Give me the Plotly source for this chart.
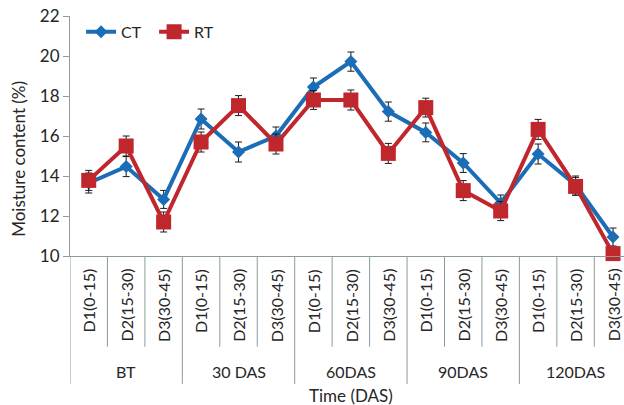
import plotly.graph_objects as go

# Sampling depths within each time step, and the time steps
depths = ["D1(0-15)", "D2(15-30)", "D3(30-45)"]
times = ["BT", "30 DAS", "60DAS", "90DAS", "120DAS"]

# Soil moisture content (%) with standard errors
ct_values = [13.65, 14.47, 12.83, 16.85, 15.2, 16.0, 18.45, 19.72, 17.22, 16.18,
             14.65, 12.65, 15.1, 13.55, 10.95]
ct_errors = [0.5, 0.5, 0.45, 0.5, 0.5, 0.45, 0.45, 0.48, 0.48, 0.47,
             0.47, 0.4, 0.5, 0.45, 0.45]
rt_values = [13.78, 15.5, 11.7, 15.7, 17.52, 15.6, 17.8, 17.8, 15.13, 17.42,
             13.27, 12.25, 16.33, 13.48, 10.12]
rt_errors = [0.5, 0.5, 0.5, 0.5, 0.5, 0.5, 0.47, 0.5, 0.5, 0.47,
             0.5, 0.48, 0.5, 0.45, 0.3]

y_ticks = [10, 12, 14, 16, 18, 20, 22]

n_depth = len(depths)
labels = [d for _ in times for d in depths]
xpos = list(range(len(labels)))

FONT = "Lato"
TEXT = "#262626"
AXIS = "#8c9c9a"
BLUE = "#1b6db6"
RED = "#c0272d"

fig = go.Figure()

fig.add_trace(go.Scatter(
    x=xpos, y=ct_values, name="CT", mode="lines+markers",
    line=dict(color=BLUE, width=4),
    marker=dict(symbol="diamond", size=10, color=BLUE),
    error_y=dict(type="data", array=ct_errors, color="#1a1a1a", thickness=1, width=3.5),
    cliponaxis=False,
))
fig.add_trace(go.Scatter(
    x=xpos, y=rt_values, name="RT", mode="lines+markers",
    line=dict(color=RED, width=4),
    marker=dict(symbol="square", size=15, color=RED),
    error_y=dict(type="data", array=rt_errors, color="#1a1a1a", thickness=1, width=3.5),
    cliponaxis=False,
))

# Category dividers below the axis: short between depths, long between time steps
shapes = []
for k in range(len(labels) + 1):
    bottom = -0.533 if k % n_depth == 0 else -0.378
    shapes.append(dict(type="line", xref="x", yref="paper",
                       x0=k - 0.5, x1=k - 0.5, y0=0, y1=bottom,
                       line=dict(color=AXIS, width=1)))

annotations = []
for i, lab in enumerate(labels):
    annotations.append(dict(x=xpos[i], y=-0.045, xref="x", yref="paper",
                            text=lab, textangle=-90, showarrow=False,
                            xanchor="center", yanchor="top",
                            font=dict(family=FONT, size=16, color=TEXT)))
for g, t in enumerate(times):
    annotations.append(dict(x=g * n_depth + 1, y=-0.482, xref="x", yref="paper",
                            text=t, showarrow=False, xanchor="center", yanchor="middle",
                            font=dict(family=FONT, size=16, color=TEXT)))
annotations.append(dict(x=(len(labels) - 1) / 2, y=-0.58, xref="x", yref="paper",
                        text="Time (DAS)", showarrow=False,
                        xanchor="center", yanchor="middle",
                        font=dict(family=FONT, size=17, color=TEXT)))
annotations.append(dict(x=-0.092, y=0.405, xref="paper", yref="paper",
                        text="Moisture content (%)", textangle=-90, showarrow=False,
                        xanchor="center", yanchor="middle",
                        font=dict(family=FONT, size=17, color=TEXT)))

fig.update_layout(
    width=624, height=405,
    margin=dict(l=70, r=0, t=16, b=149),
    paper_bgcolor="white", plot_bgcolor="white",
    font=dict(family=FONT, size=16, color=TEXT),
    showlegend=True,
    legend=dict(orientation="h", x=0.02, y=1.005, xanchor="left", yanchor="top",
                bgcolor="rgba(0,0,0,0)", font=dict(family=FONT, size=16, color=TEXT),
                itemwidth=30, entrywidth=28, entrywidthmode="pixels"),
    xaxis=dict(range=[-0.5, -0.5 + 554 / 37.45], showticklabels=False,
               showgrid=False, zeroline=False, showline=True,
               linecolor=AXIS, linewidth=1, ticks=""),
    yaxis=dict(range=[10, 22], tickvals=y_ticks, showgrid=False, zeroline=False,
               showline=True, linecolor=AXIS, linewidth=1,
               ticks="outside", ticklen=6, tickcolor=AXIS,
               tickfont=dict(family=FONT, size=17, color=TEXT)),
    shapes=shapes,
    annotations=annotations,
)

fig.write_html("out.html")
